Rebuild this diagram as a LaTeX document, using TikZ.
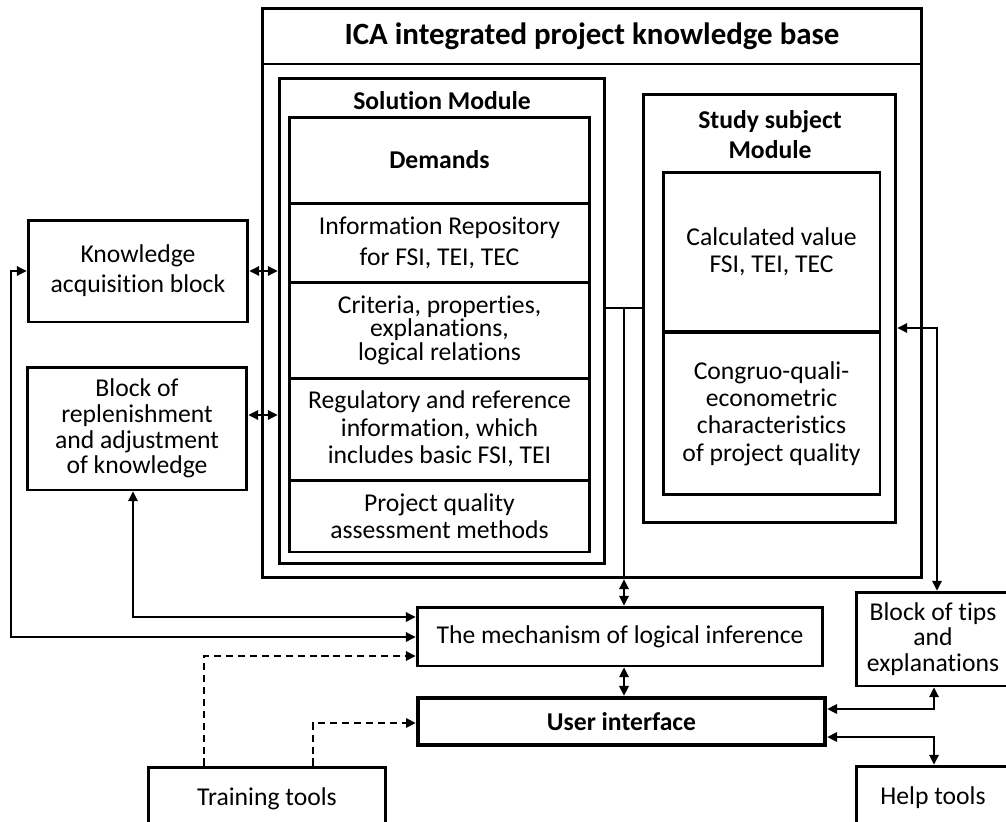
\documentclass[tikz,border=0pt]{standalone}
\usepackage{fontspec}
\setmainfont[Ligatures={NoCommon,NoContextual}]{Carlito}
\usetikzlibrary{arrows.meta}

\tikzset{
  block/.style={draw, line width=1.7pt, align=center, inner sep=0pt,
    font=\fontsize{14.6}{15.6}\selectfont},
  heavy/.style={block, line width=2.7pt, font=\fontsize{14.6}{16}\selectfont\bfseries},
  lbl/.style={align=center, inner sep=0pt, font=\fontsize{14.6}{17}\selectfont\bfseries},
  conn/.style={line width=0.6pt, {Triangle[length=5.5pt, width=5.5pt]}-{Triangle[length=5.5pt, width=5.5pt]}},
  dashconn/.style={line width=0.6pt, dash pattern=on 4pt off 2.8pt, -{Triangle[length=5.5pt, width=5.5pt]}}
}

\begin{document}
\begin{tikzpicture}[x=0.02cm, y=-0.02cm]
  \useasboundingbox (0,0) rectangle (1006,821);

  % Knowledge base frame
  \node[block, minimum width=13.2cm, minimum height=11.4cm] (KB) at (592,293) {};
  \node[block, minimum width=13.2cm, minimum height=1.12cm,
    font=\fontsize{17.6}{20}\selectfont\bfseries] (KBtitle) at (592,36) {ICA integrated project knowledge base};

  % Solution module
  \node[block, minimum width=6.52cm, minimum height=9.72cm] (SM) at (442,321) {};
  \node[lbl] (SMlabel) at (442,101) {Solution Module};
  \foreach \name/\y/\h/\txt in {
      dem/160/1.72/{{\bfseries Demands}},
      repo/242.5/1.58/{Information Repository\\[2pt]for FSI, TEI, TEC},
      crit/330/1.92/{Criteria, properties,\\[-2.2pt]explanations,\\[-2.2pt]logical relations},
      reg/429/2.04/{Regulatory and reference\\information, which\\includes basic FSI, TEI},
      meth/516/1.44/{Project quality\\assessment methods}} {
    \node[block, minimum width=6.02cm, minimum height=\h cm] (\name) at (439.5,\y) {\txt};
  }

  % Study subject module
  \node[block, minimum width=5.06cm, minimum height=8.58cm] (Study) at (769.5,308.5) {};
  \node[lbl] (Studylabel) at (770,135) {Study subject\\Module};
  \node[block, minimum width=4.34cm, minimum height=3.2cm] (calc) at (771.5,252) {Calculated value\\FSI, TEI, TEC};
  \node[block, minimum width=4.34cm, minimum height=3.26cm] (cong) at (771.5,413.5)
    {Congruo-quali-\\econometric\\characteristics\\of project quality};

  % Outer blocks
  \node[block, minimum width=4.4cm, minimum height=2.04cm] (KA) at (138,271) {Knowledge\\[1.5pt]acquisition block};
  \node[block, minimum width=4.4cm, minimum height=2.46cm] (Rep) at (137,428.5)
    {Block of\\[-1pt]replenishment\\[-1pt]and adjustment\\[-1pt]of knowledge};
  \node[block, minimum width=8.12cm, minimum height=1.18cm] (Inf) at (620,636.5) {The mechanism of logical inference};
  \node[heavy, minimum width=8.14cm, minimum height=0.94cm] (UI) at (621.5,721.5) {User interface};
  \node[block, minimum width=3.08cm, minimum height=1.88cm] (Tips) at (933,639) {Block of tips\\[-1pt]and\\[-1pt]explanations};
  \node[block, minimum width=3.08cm, minimum height=1.28cm] (Help) at (933,798) {Help tools};
  \node[block, minimum width=4.76cm, minimum height=1.26cm] (Train) at (267,798.5) {Training tools};

  % Bend points
  \coordinate (bus) at (624,308);
  \coordinate (tipsbend) at (937,328);
  \coordinate (uitips) at (934,709);
  \coordinate (uihelp) at (934,737);
  \coordinate (leftbus) at (11,637);
  \coordinate (repbend) at (133,617);
  \coordinate (trainA) at (204,656);
  \coordinate (trainB) at (313,723);

  % Connections
  \draw[conn] (KA.east) -- (KA.east -| SM.west);
  \draw[conn] ([yshift=0.27cm]Rep.east) -- ([yshift=0.27cm]Rep.east -| SM.west);
  \draw[line width=0.6pt] (bus -| SM.east) -- (bus -| Study.west);
  \draw[line width=0.6pt] (bus) -- (bus |- KB.south);
  \draw[conn] (bus |- KB.south) -- (bus |- Inf.north);
  \draw[conn] (bus |- Inf.south) -- (bus |- UI.north);
  \draw[conn] (tipsbend -| Study.east) -- (tipsbend) -- (tipsbend |- Tips.north);
  \draw[conn] (uitips -| UI.east) -- (uitips) -- (uitips |- Tips.south);
  \draw[conn] (uihelp -| UI.east) -- (uihelp) -- (uihelp |- Help.north);
  \draw[conn] (KA.west) -- (KA.west -| leftbus) -- (leftbus) -- (leftbus -| Inf.west);
  \draw[conn] (repbend |- Rep.south) -- (repbend) -- (repbend -| Inf.west);
  \draw[dashconn] (trainA |- Train.north) -- (trainA) -- (trainA -| Inf.west);
  \draw[dashconn] (trainB |- Train.north) -- (trainB) -- (trainB -| UI.west);
\end{tikzpicture}
\end{document}
